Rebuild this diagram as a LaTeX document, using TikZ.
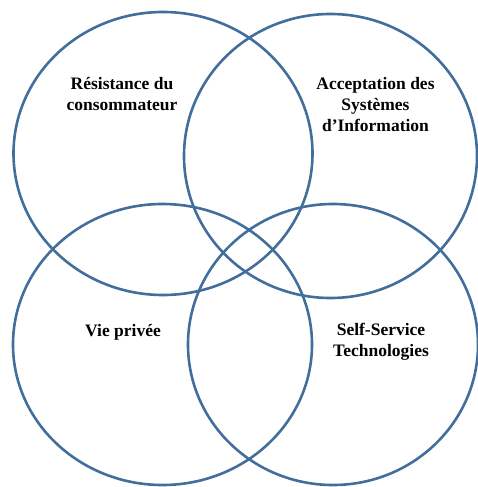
\documentclass[tikz,border=0pt]{standalone}
\usepackage{fontspec}
\setmainfont{Liberation Serif}
\usetikzlibrary{positioning}
\definecolor{vennblue}{RGB}{66,110,156}

\begin{document}
\begin{tikzpicture}[x=1pt, y=-1pt,
  venn/.style={draw=vennblue, line width=2.6pt},
  txt/.style={align=center, inner sep=0pt, font=\bfseries\fontsize{17.5}{21}\selectfont}]
\useasboundingbox (0,0) rectangle (478,487);

\coordinate (c1) at (163,153.5);
\coordinate (c2) at (330.5,156);
\coordinate (c3) at (162.5,344.5);
\coordinate (c4) at (333,344.5);

\draw[venn] (c1) ellipse [x radius=149.5pt, y radius=141.5pt];
\draw[venn] (c2) ellipse [x radius=146.5pt, y radius=142pt];
\draw[venn] (c3) ellipse [x radius=149.5pt, y radius=140.5pt];
\draw[venn] (c4) ellipse [x radius=145pt, y radius=140.5pt];

\node[txt] (res) at (122,94) {Résistance du\\consommateur};
\node[txt] (acc) at (375.5,104.5) {Acceptation des\\Systèmes\\d’Information};
\node[txt] (vie) at (123,332) {Vie privée};
\node[txt] (sst) at (381,342) {Self-Service\\Technologies};
\end{tikzpicture}
\end{document}
